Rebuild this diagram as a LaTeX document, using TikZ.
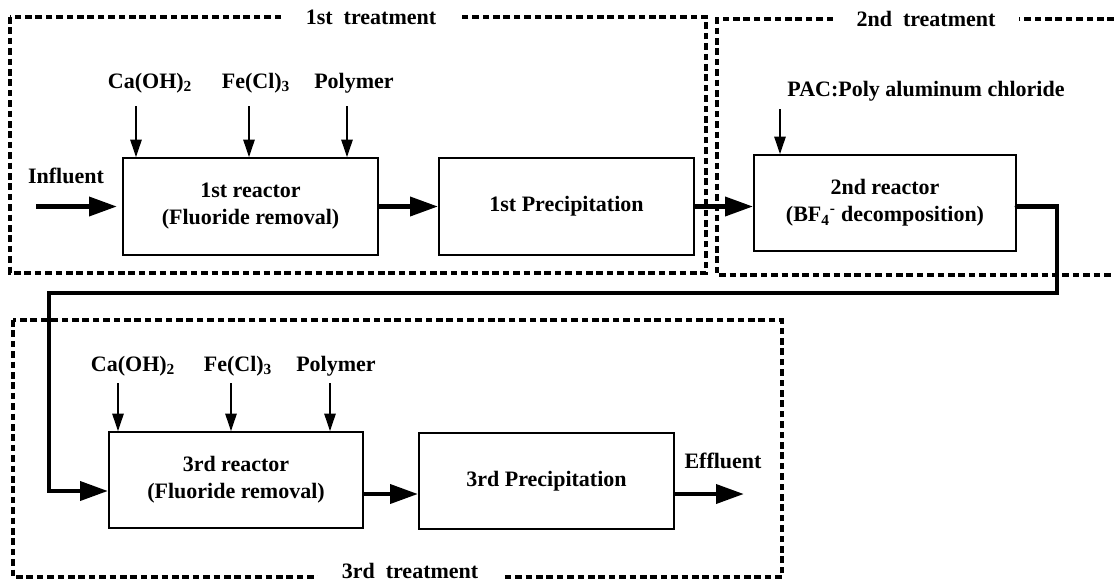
\documentclass[tikz,border=0pt]{standalone}
\usepackage{fontspec}
\setmainfont{Liberation Serif}
\usetikzlibrary{arrows.meta}
\begin{document}
\begin{tikzpicture}[x=0.75pt,y=-0.75pt,
  font=\fontsize{16.5}{20.25}\selectfont\bfseries,
  box/.style={draw,line width=1.4pt,align=center,inner sep=0pt},
  frame/.style={line width=2.4pt,dash pattern=on 5pt off 2.8pt},
  framelabel/.style={fill=white,inner xsep=18pt,inner ysep=1pt,anchor=base},
  feed/.style={line width=1.1pt,-{Triangle[length=13pt,width=8.5pt]}},
  flow/.style={line width=3.5pt,-{Triangle[length=21pt,width=14pt]}},
  lbl/.style={anchor=base}]
\useasboundingbox (0,0) rectangle (1114,583);

% treatment frames
\draw[frame] (10,17) rectangle (706,273);
\node[framelabel] (t1) at (371,24) {1st\ \ treatment};
\draw[frame] (1114,19) -| (717,275) -- (1114,275);
\node[framelabel] (t2) at (926,26) {2nd\ \ treatment};
\draw[frame] (13,320) rectangle (782,577);
\node[framelabel,inner ysep=1.6pt] (t3) at (410,578) {3rd\ \ treatment};

% process boxes
\node[box,minimum width=191.25pt,minimum height=72.75pt] (r1) at (250.5,206.5) {1st reactor\\(Fluoride removal)};
\node[box,minimum width=191.25pt,minimum height=72.75pt] (p1) at (566.5,206.5) {1st Precipitation};
\node[box,minimum width=196.5pt,minimum height=72pt] (r2) at (885,203) {2nd reactor\\(BF\textsubscript{4}\textsuperscript{-} decomposition)};
\node[box,minimum width=190.5pt,minimum height=72pt] (r3) at (236,480) {3rd reactor\\(Fluoride removal)};
\node[box,minimum width=191.25pt,minimum height=72pt] (p3) at (546.5,481) {3rd Precipitation};

% labels
\node[lbl] (ca1) at (150,88) {Ca(OH)\textsubscript{2}};
\node[lbl] (fe1) at (256,88) {Fe(Cl)\textsubscript{3}};
\node[lbl] (po1) at (354,88) {Polymer};
\node[lbl] (pac) at (926,96) {PAC:Poly aluminum chloride};
\node[lbl] (inf) at (66,183) {Influent};
\node[lbl] (ca3) at (133,371) {Ca(OH)\textsubscript{2}};
\node[lbl] (fe3) at (238,371) {Fe(Cl)\textsubscript{3}};
\node[lbl] (po3) at (336,371) {Polymer};
\node[lbl] (eff) at (723,468) {Effluent};

% feed arrows
\coordinate (fa1) at (136,106);
\coordinate (fb1) at (249,106);
\coordinate (fc1) at (347,106);
\coordinate (fp2) at (780,109);
\coordinate (fa3) at (118,383);
\coordinate (fb3) at (231,383);
\coordinate (fc3) at (330,383);
\draw[feed] (fa1) -- (fa1 |- r1.north);
\draw[feed] (fb1) -- (fb1 |- r1.north);
\draw[feed] (fc1) -- (fc1 |- r1.north);
\draw[feed] (fp2) -- (fp2 |- r2.north);
\draw[feed] (fa3) -- (fa3 |- r3.north);
\draw[feed] (fb3) -- (fb3 |- r3.north);
\draw[feed] (fc3) -- (fc3 |- r3.north);

% main flow
\coordinate (inS) at (36,206.5);
\coordinate (inE) at (117,206.5);
\draw[flow] (inS) -- (inE);
\draw[flow] (r1.east) -- (p1.west);
\draw[flow] (p1.east) -- (p1.east -| r2.west);
\coordinate (c1) at (1057,293);
\coordinate (c2) at (49,491);
\draw[flow,line cap=round] (r2.east |- p1.east) -| (c1) -| (c2) -- (c2 -| r3.west);
\coordinate (m3) at (0,494);
\coordinate (effE) at (744,494);
\draw[flow] (r3.east |- m3) -- (p3.west |- m3);
\draw[flow] (p3.east |- m3) -- (effE);
\end{tikzpicture}
\end{document}
